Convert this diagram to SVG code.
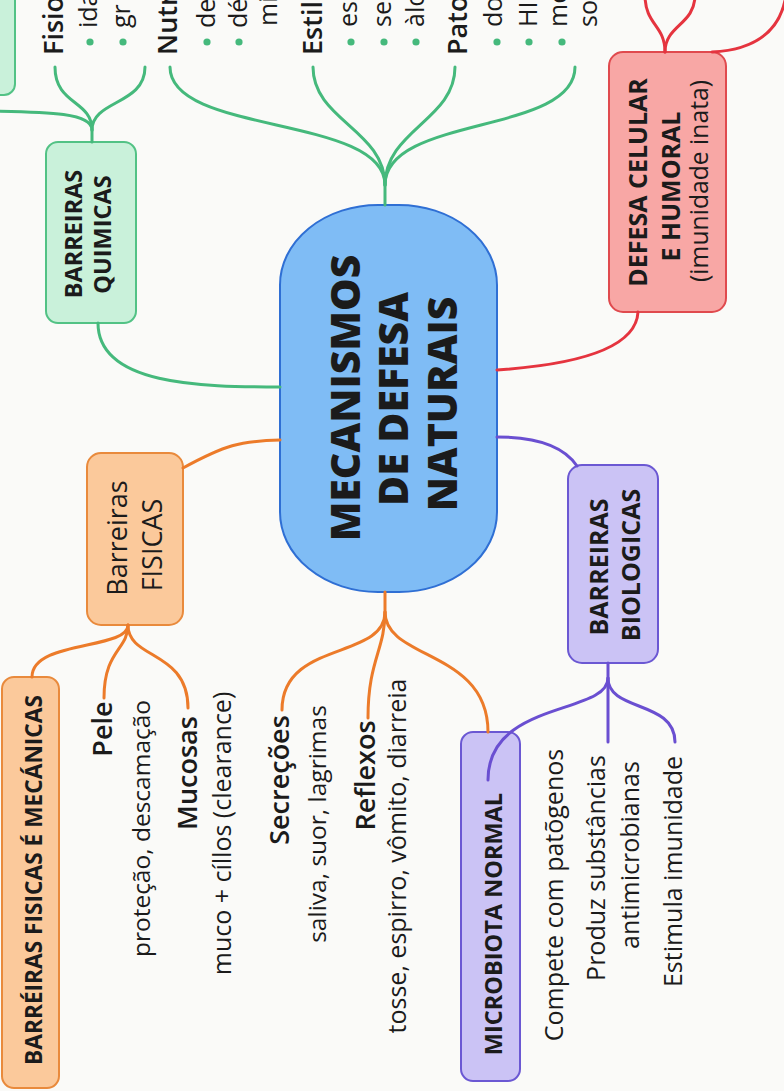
<svg xmlns="http://www.w3.org/2000/svg" width="784" height="1091" viewBox="0 0 784 1091">
<style>
text { font-family: 'Open Sans', 'Liberation Sans', sans-serif; fill: #1b1b1b; }
.m { text-anchor: middle; }
.lab { font-weight: 600; font-size: 27px; }
.reg { font-weight: 400; font-size: 25px; }
.cap { font-weight: 700; }
.ctr { font-weight: 800; font-size: 41px; text-anchor: middle; }
.nb { stroke-width: 2; }
.gN { fill: #c9f1da; stroke: #52c285; }
.oN { fill: #fbc99b; stroke: #e98a3c; }
.rN { fill: #f8a7a5; stroke: #e04a4e; }
.pN { fill: #cbc3f5; stroke: #6b58d3; }
.cN { fill: #7fbcf5; stroke: #2f6fd4; }
.ln { fill: none; stroke-width: 3; stroke-linecap: round; }
.lg { stroke: #45b97c; }
.lo { stroke: #ec7b2a; }
.lr { stroke: #e5343f; }
.lp { stroke: #6a4fd1; }
.dot { fill: #45b97c; }
</style>
<rect x="0" y="0" width="784" height="1091" fill="#fafaf8"/>

<g id="nodes">
  <g id="n-top-left-green">
    <rect class="nb gN" x="-30" y="-30" width="45" height="125" rx="11"/>
  </g>
  <g id="n-central">
    <rect class="nb cN" x="280" y="205" width="217" height="387" rx="98" ry="80"/>
    <text class="ctr" transform="translate(360 398) rotate(-90)">MECANISMOS</text>
    <text class="ctr" transform="translate(408 399) rotate(-90)">DE DEFESA</text>
    <text class="ctr" transform="translate(457 404) rotate(-90)">NATURAIS</text>
  </g>
  <g id="n-quimicas">
    <rect class="nb gN" x="46" y="142" width="90" height="181" rx="12"/>
    <text class="cap m" font-size="23.5" transform="translate(82 234) rotate(-90)">BARREIRAS</text>
    <text class="cap m" font-size="23.5" transform="translate(111 234.5) rotate(-90)">QUIMICAS</text>
  </g>
  <g id="n-fisicas">
    <rect class="nb oN" x="87" y="453" width="96" height="172" rx="14"/>
    <text class="m" font-size="27" font-weight="500" transform="translate(127 538) rotate(-90)">Barreiras</text>
    <text class="m" font-size="27" font-weight="500" transform="translate(162 545) rotate(-90)">FISICAS</text>
  </g>
  <g id="n-biologicas">
    <rect class="nb pN" x="568" y="465" width="90" height="198" rx="14"/>
    <text class="cap m" font-size="25" transform="translate(608 567) rotate(-90)">BARREIRAS</text>
    <text class="cap m" font-size="25" transform="translate(640 565) rotate(-90)">BIOLOGICAS</text>
  </g>
  <g id="n-defesa">
    <rect class="nb rN" x="609" y="52" width="117" height="260" rx="14"/>
    <text class="cap m" font-size="25" transform="translate(647 182.5) rotate(-90)">DEFESA CELULAR</text>
    <text class="cap m" font-size="25" transform="translate(680 186.5) rotate(-90)">E HUMORAL</text>
    <text class="m" font-size="24.7" transform="translate(708 181) rotate(-90)">(imunidade inata)</text>
  </g>
  <g id="n-mecanicas">
    <rect class="nb oN" x="2" y="677" width="57" height="411" rx="12"/>
    <text class="cap m" font-size="22.7" transform="translate(42 880) rotate(-90)">BARRÉIRAS FISICAS É MECÁNICAS</text>
  </g>
  <g id="n-microbiota">
    <rect class="nb pN" x="461" y="732" width="59" height="349" rx="12"/>
    <text class="cap m" font-size="23.5" transform="translate(502 924) rotate(-90)">MICROBIOTA NORMAL</text>
  </g>
  <g id="n-pele">
    <text class="lab m" transform="translate(112 729) rotate(-90)">Pele</text>
    <text class="m" font-size="24.5" transform="translate(150 828.5) rotate(-90)">proteção, descamação</text>
  </g>
  <g id="n-mucosas">
    <text class="lab m" transform="translate(197 773) rotate(-90)">Mucosas</text>
    <text class="reg m" transform="translate(231 833.5) rotate(-90)">muco + cíllos (clearance)</text>
  </g>
  <g id="n-secrecoes">
    <text class="lab m" transform="translate(289 780) rotate(-90)">Secreções</text>
    <text class="m" font-size="24.5" transform="translate(326 824) rotate(-90)">saliva, suor, lagrimas</text>
  </g>
  <g id="n-reflexos">
    <text class="lab m" transform="translate(375 775.5) rotate(-90)">Reflexos</text>
    <text class="reg m" transform="translate(406 856) rotate(-90)">tosse, espirro, vômito, diarreia</text>
  </g>
  <g id="n-compete">
    <text class="reg m" transform="translate(563 895) rotate(-90)">Compete com patõgenos</text>
  </g>
  <g id="n-produz">
    <text class="reg m" transform="translate(605 868) rotate(-90)">Produz substâncias</text>
    <text class="reg m" transform="translate(639 855) rotate(-90)">antimicrobianas</text>
  </g>
  <g id="n-estimula">
    <text class="reg m" transform="translate(682 871.5) rotate(-90)">Estimula imunidade</text>
  </g>
  <g id="n-fisio">
    <text class="lab" transform="translate(63 55) rotate(-90)">Fisio</text>
    <circle class="dot" cx="90" cy="42" r="3.6"/>
    <text class="reg" transform="translate(97 28) rotate(-90)">ida</text>
    <circle class="dot" cx="123" cy="42" r="3.6"/>
    <text class="reg" transform="translate(130 28) rotate(-90)">gr</text>
  </g>
  <g id="n-nutr">
    <text class="lab" transform="translate(177 55) rotate(-90)">Nutr</text>
    <circle class="dot" cx="207" cy="42" r="3.6"/>
    <text class="reg" transform="translate(215 28) rotate(-90)">de</text>
    <circle class="dot" cx="239" cy="42" r="3.6"/>
    <text class="reg" transform="translate(247 28) rotate(-90)">dé</text>
    <text class="reg" transform="translate(277 26) rotate(-90)">mi</text>
  </g>
  <g id="n-estil">
    <text class="lab" transform="translate(322 55) rotate(-90)">Estil</text>
    <circle class="dot" cx="351" cy="42" r="3.6"/>
    <text class="reg" transform="translate(357 27) rotate(-90)">es</text>
    <circle class="dot" cx="384" cy="42" r="3.6"/>
    <text class="reg" transform="translate(391 27) rotate(-90)">se</text>
    <circle class="dot" cx="416" cy="42" r="3.6"/>
    <text class="reg" transform="translate(424 27) rotate(-90)">àlc</text>
  </g>
  <g id="n-pato">
    <text class="lab" transform="translate(467 55) rotate(-90)">Pato</text>
    <circle class="dot" cx="497" cy="42" r="3.6"/>
    <text class="reg" transform="translate(502 27) rotate(-90)">do</text>
    <circle class="dot" cx="529" cy="42" r="3.6"/>
    <text class="reg" transform="translate(537 27) rotate(-90)">HI</text>
    <circle class="dot" cx="562" cy="42" r="3.6"/>
    <text class="reg" transform="translate(567 27) rotate(-90)">me</text>
    <text class="reg" transform="translate(597 27) rotate(-90)">so</text>
  </g>
</g>

<g id="connectors">
  <path class="ln lg" d="M385,205 L385,185 C385,115 170,135 170,67"/>
  <path class="ln lg" d="M385,185 C385,130 313,120 313,67"/>
  <path class="ln lg" d="M385,185 C385,130 455,120 455,67"/>
  <path class="ln lg" d="M385,185 C385,115 575,135 575,67"/>
  <path class="ln lg" d="M92,142 L92,130 C92,100 55,105 55,67"/>
  <path class="ln lg" d="M92,130 C92,100 145,105 145,67"/>
  <path class="ln lg" d="M92,130 C92,113 50,112 -10,111"/>
  <path class="ln lg" d="M98,323 C98,385 200,387 280,387"/>
  <path class="ln lo" d="M183,468 C225,445 240,441 280,440"/>
  <path class="ln lo" d="M128,625 C128,650 32,640 32,677"/>
  <path class="ln lo" d="M128,625 C128,650 104,650 104,698"/>
  <path class="ln lo" d="M128,625 C128,660 188,650 188,708"/>
  <path class="ln lo" d="M385,592 L385,612 C385,660 282,640 282,710"/>
  <path class="ln lo" d="M385,612 C385,650 368,660 368,718"/>
  <path class="ln lo" d="M385,612 C385,660 488,650 488,732"/>
  <path class="ln lp" d="M497,437 C540,437 565,448 577,466"/>
  <path class="ln lp" d="M608,663 L608,678 C608,715 488,700 488,780"/>
  <path class="ln lp" d="M608,678 L608,742"/>
  <path class="ln lp" d="M608,678 C608,712 675,700 675,742"/>
  <path class="ln lr" d="M497,370 C570,365 636,350 638,312"/>
  <path class="ln lr" d="M665,52 C665,25 645,25 645,-5"/>
  <path class="ln lr" d="M665,52 C665,25 695,25 695,-5"/>
  <path class="ln lr" d="M712,52 C750,50 780,35 786,-5"/>
</g>
</svg>
